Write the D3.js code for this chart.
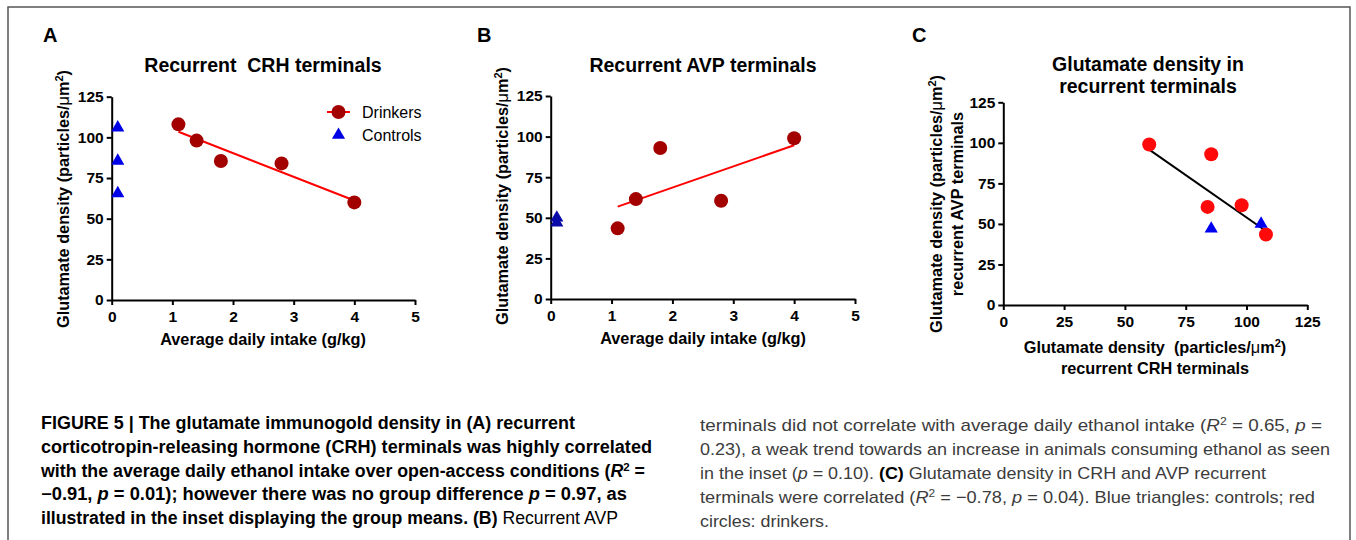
<!DOCTYPE html>
<html>
<head>
<meta charset="utf-8">
<script src="https://cdn.jsdelivr.net/npm/d3@7"></script>
<style>
  body { margin: 0; background: #fff; }
  svg { font-family: "Liberation Sans", Arial, Helvetica, sans-serif; }
  text { white-space: pre; }
</style>
</head>
<body>
<svg id="fig" width="1356" height="540"></svg>
<script>
// values
const intake = [1.1, 1.4, 1.8, 2.8, 4.0];
const crhDrinkers = [108, 98, 85.5, 84, 60];
const avpDrinkers = [43.5, 61.5, 93, 60.5, 99];
const controlIntake = 0.1;
const crhControls = [106, 85.5, 65.5];
const avpControls = [50, 47];
const intakeTicks = [0, 1, 2, 3, 4, 5];
const densityTicks = [0, 25, 50, 75, 100, 125];

// caption, one entry per printed line: [text, style]
const captionLeft = [
    [["FIGURE 5 | The glutamate immunogold density in (A) recurrent", "b"]],
    [["corticotropin-releasing hormone (CRH) terminals was highly correlated", "b"]],
    [["with the average daily ethanol intake over open-access conditions (", "b"], ["R", "bi"], ["2", "bsup"], [" =", "b"]],
    [["\u22120.91, ", "b"], ["p", "bi"], [" = 0.01); however there was no group difference ", "b"], ["p", "bi"], [" = 0.97, as", "b"]],
    [["illustrated in the inset displaying the group means. (B)", "b"], [" Recurrent AVP", ""]]
];
const captionRight = [
    [["terminals did not correlate with average daily ethanol intake (", ""], ["R", "i"], ["2", "sup"], [" = 0.65, ", ""], ["p", "i"], [" =", ""]],
    [["0.23), a weak trend towards an increase in animals consuming ethanol as seen", ""]],
    [["in the inset (", ""], ["p", "i"], [" = 0.10). ", ""], ["(C)", "b"], [" Glutamate density in CRH and AVP recurrent", ""]],
    [["terminals were correlated (", ""], ["R", "i"], ["2", "sup"], [" = \u22120.78, ", ""], ["p", "i"], [" = 0.04). Blue triangles: controls; red", ""]],
    [["circles: drinkers.", ""]]
];

const svg = d3.select("#fig");

// outer frame
svg.append("path")
    .attr("d", "M8,540 V7 H1350 V540")
    .style("fill", "none")
    .style("stroke", "#555")
    .style("stroke-width", 1.5);

function fitLine(pts) {
    // least squares line over the x extent of the points
    const mx = d3.mean(pts, d => d.x), my = d3.mean(pts, d => d.y);
    const slope = d3.sum(pts, d => (d.x - mx) * (d.y - my)) / d3.sum(pts, d => (d.x - mx) ** 2);
    return d3.extent(pts, d => d.x).map(x => ({x: x, y: my + slope * (x - mx)}));
}

class Panel {
    constructor(cfg) {
        this.cfg = cfg;
        this.g = svg.append("g");
        this.x = d3.scaleLinear().domain(cfg.xDomain).range(cfg.xRange);
        this.y = d3.scaleLinear().domain([0, 125]).range(cfg.yRange);
    }

    draw() {
        const c = this.cfg;
        this._drawAxes();

        // fitted line
        const fit = fitLine(c.fitPoints);
        this.g.append("path")
            .attr("d", d3.line().x(d => this.x(d.x)).y(d => this.y(d.y))(fit))
            .style("fill", "none")
            .style("stroke", c.fitColor)
            .style("stroke-width", 2);

        this.g.selectAll("circle.drinker")
            .data(c.drinkers)
            .join("circle")
            .attr("class", "drinker")
            .attr("cx", d => this.x(d.x))
            .attr("cy", d => this.y(d.y))
            .attr("r", 7)
            .style("fill", c.circleColor);

        this.g.selectAll("path.control")
            .data(c.controls)
            .join("path")
            .attr("class", "control")
            .attr("d", d3.symbol(d3.symbolTriangle, 75))
            .attr("transform", d => `translate(${this.x(d.x)},${this.y(d.y)})`)
            .style("fill", c.triColor);

        // panel letter and title
        this.g.append("text")
            .attr("x", c.letter[0]).attr("y", c.letter[1])
            .style("font-size", "20px").style("font-weight", "bold")
            .text(c.letter[2]);
        c.title.forEach((t, i) => {
            this.g.append("text")
                .attr("x", c.titlePos[0]).attr("y", c.titlePos[1] + i * 22)
                .attr("text-anchor", "middle")
                .style("font-size", "19.5px").style("font-weight", "bold")
                .text(t);
        });

        c.xLabel.forEach((t, i) => {
            const el = this.g.append("text")
                .attr("x", c.xLabelPos[0]).attr("y", c.xLabelPos[1] + i * 21)
                .attr("text-anchor", "middle")
                .style("font-size", "16.3px").style("font-weight", "bold");
            this._labelText(el, t);
        });
        c.yLabel.forEach((t, i) => {
            const el = this.g.append("text")
                .attr("transform", `translate(${c.yLabelPos[0] + i * 21.5},${c.yLabelPos[1]}) rotate(-90)`)
                .attr("text-anchor", "middle")
                .style("font-size", "16.3px").style("font-weight", "bold");
            this._labelText(el, t);
        });
    }

    _labelText(el, t) {
        // μ is set in a lighter face, like the original
        t.split(/(μ|²)/).forEach(part => {
            if (part === "") return;
            const sp = el.append("tspan")
                .style("font-weight", part === "μ" ? "normal" : "bold")
                .text(part === "²" ? "2" : part);
            if (part === "²") sp.attr("dy", -6).style("font-size", "11px");
            else if (part === ")") sp.attr("dy", 6);
        });
    }

    _drawAxes() {
        const c = this.cfg;
        const gx = this.g.append("g")
            .attr("transform", `translate(0,${c.yRange[0]})`)
            .call(d3.axisBottom(this.x).tickValues(c.xTicks).tickFormat(d3.format("d"))
                .tickSize(5).tickSizeOuter(0).tickPadding(6));
        const gy = this.g.append("g")
            .attr("transform", `translate(${c.xRange[0]},0)`)
            .call(d3.axisLeft(this.y).tickValues(densityTicks).tickFormat(d3.format("d"))
                .tickSize(5).tickSizeOuter(0).tickPadding(3));
        [gx, gy].forEach(a => {
            a.attr("font-family", null).attr("font-size", null);
            a.select(".domain").style("stroke", "#000").style("stroke-width", 2);
            a.selectAll(".tick line").style("stroke", "#000").style("stroke-width", 2);
            a.selectAll(".tick text")
                .style("font-size", "15.5px").style("font-weight", "bold").style("fill", "#000");
        });
    }
}

const ptsA = intake.map((x, i) => ({x: x, y: crhDrinkers[i]}));
const ptsB = intake.map((x, i) => ({x: x, y: avpDrinkers[i]}));
const ptsC = crhDrinkers.map((x, i) => ({x: x, y: avpDrinkers[i]}));
const ctlA = crhControls.map(v => ({x: controlIntake, y: v}));
const ctlB = avpControls.map(v => ({x: controlIntake, y: v}));
const ctlC = avpControls.map((v, i) => ({x: crhControls[i], y: v}));

const yLab = "Glutamate density (particles/μm²)";

const panelA = new Panel({
    xDomain: [0, 5], xRange: [111.7, 415], yRange: [300, 96.7], xTicks: intakeTicks,
    drinkers: ptsA, controls: ctlA, fitPoints: ptsA,
    circleColor: "#a30000", triColor: "#0000e6", fitColor: "#ff0000",
    letter: [43, 42, "A"], title: ["Recurrent  CRH terminals"], titlePos: [263, 72],
    xLabel: ["Average daily intake (g/kg)"], xLabelPos: [263, 345],
    yLabel: [yLab], yLabelPos: [68.5, 199]
});
panelA.draw();

const panelB = new Panel({
    xDomain: [0, 5], xRange: [550.7, 855], yRange: [299, 96], xTicks: intakeTicks,
    drinkers: ptsB, controls: ctlB, fitPoints: ptsB,
    circleColor: "#a30000", triColor: "#0a0aa8", fitColor: "#ff0000",
    letter: [477, 42, "B"], title: ["Recurrent AVP terminals"], titlePos: [703, 72],
    xLabel: ["Average daily intake (g/kg)"], xLabelPos: [703, 344],
    yLabel: [yLab], yLabelPos: [508, 196]
});
panelB.draw();

const panelC = new Panel({
    xDomain: [0, 125], xRange: [1003.3, 1307.3], yRange: [305, 102.3], xTicks: densityTicks,
    drinkers: ptsC, controls: ctlC, fitPoints: ptsC.concat(ctlC),
    circleColor: "#ff0a0a", triColor: "#0000f0", fitColor: "#000",
    letter: [912, 42, "C"], title: ["Glutamate density in", "recurrent terminals"], titlePos: [1148, 71],
    xLabel: ["Glutamate density  (particles/μm²)", "recurrent CRH terminals"], xLabelPos: [1155, 352.5],
    yLabel: [yLab, "recurrent AVP terminals"], yLabelPos: [941.5, 204]
});
panelC.draw();

// legend (panel A)
const leg = svg.append("g");
leg.append("line")
    .attr("x1", 327).attr("x2", 350).attr("y1", 112).attr("y2", 112)
    .style("stroke", "#ff0000").style("stroke-width", 2);
leg.append("circle").attr("cx", 338.5).attr("cy", 112).attr("r", 7).style("fill", "#a30000");
leg.append("path")
    .attr("d", d3.symbol(d3.symbolTriangle, 75))
    .attr("transform", "translate(338.5,135)")
    .style("fill", "#0000e6");
leg.selectAll("text")
    .data(["Drinkers", "Controls"])
    .join("text")
    .attr("x", 362)
    .attr("y", (d, i) => 117.5 + i * 23)
    .style("font-size", "16px")
    .text(d => d);

// caption
function drawCaption(lines, x0, y0, step, ends, size, color) {
    lines.forEach((segs, i) => {
        const t = svg.append("text")
            .attr("x", x0).attr("y", y0 + i * step)
            .attr("textLength", ends[i] - x0)
            .attr("lengthAdjust", "spacingAndGlyphs")
            .style("font-size", size + "px")
            .style("fill", color);
        let raised = false;
        segs.forEach(([s, st]) => {
            const sp = t.append("tspan").text(s);
            if (st.includes("b")) sp.style("font-weight", "bold").style("fill", "#000");
            if (st.includes("i")) sp.style("font-style", "italic");
            if (st.includes("sup")) {
                sp.attr("dy", -6).style("font-size", (size * 0.65) + "px");
                raised = true;
            } else if (raised) {
                sp.attr("dy", 6);
                raised = false;
            }
        });
    });
}
drawCaption(captionLeft, 41, 429, 23.8, [575, 652, 645, 627, 618], 17.5, "#000");
drawCaption(captionRight, 700, 431, 24, [1322, 1330, 1266, 1315, 829], 17, "#3c3c3c");
</script>
</body>
</html>
